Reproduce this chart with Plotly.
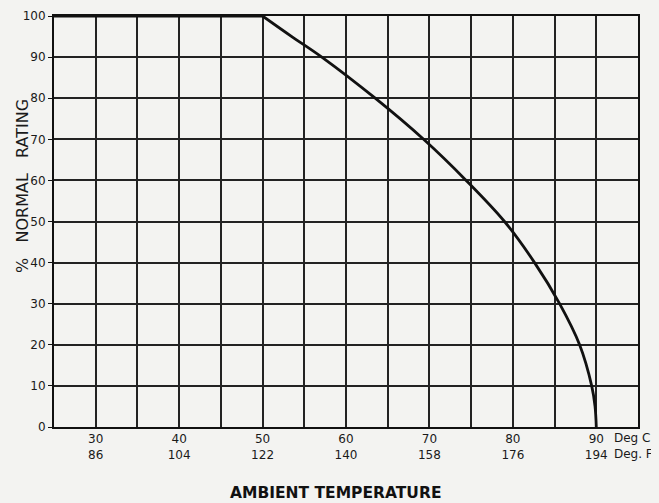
import plotly.graph_objects as go

# flat (full rating) part
flat_temp_c = [25, 50]
flat_rating = [100, 100]
# derating curve (read at each 10 % grid line)
curve_temp_c = [50, 53.5, 57.1, 63.5, 69.3, 74.4, 79, 82.6, 85.6, 88, 89.45, 89.85, 90]
curve_rating = [100, 95, 90, 80, 70, 60, 50, 40, 30, 20, 10, 5, 0]

tick_c = [30, 40, 50, 60, 70, 80, 90]
tick_f = [86, 104, 122, 140, 158, 176, 194]
y_ticks = [0, 10, 20, 30, 40, 50, 60, 70, 80, 90, 100]

grid_x = list(range(25, 96, 5))
xtext = []
for v in grid_x:
    if v in tick_c:
        xtext.append(f"{v}<br>{tick_f[tick_c.index(v)]}")
    else:
        xtext.append("")

BG = "#f3f3f1"
line_style = dict(color="#111111", width=2.8)
fig = go.Figure()
fig.add_trace(go.Scatter(x=flat_temp_c, y=flat_rating, mode="lines",
                         line=line_style, showlegend=False, hoverinfo="skip"))
fig.add_trace(go.Scatter(x=curve_temp_c, y=curve_rating, mode="lines",
                         line=dict(**line_style, shape="spline", smoothing=1.0),
                         showlegend=False, hoverinfo="skip"))

font = dict(family="DejaVu Sans", size=12, color="#1a1a1a")
# page body has an 8px margin; figure is sized/placed to compensate
fig.update_layout(
    width=651, height=495,
    margin=dict(l=46, r=21, t=8, b=76, autoexpand=False),
    paper_bgcolor=BG, plot_bgcolor=BG,
    font=font,
    xaxis=dict(range=[25, 95], tickvals=grid_x, ticktext=xtext, showgrid=True,
               gridcolor="#222222", gridwidth=1.6, zeroline=False, showline=True,
               linecolor="#111111", linewidth=2, mirror=True, ticks="", tickfont=font),
    yaxis=dict(range=[0, 100], tickvals=y_ticks, showgrid=True,
               gridcolor="#222222", gridwidth=1.6, zeroline=False, showline=True,
               linecolor="#111111", linewidth=2, mirror=True, ticks="outside",
               ticklen=4, tickcolor="#111111", tickfont=font),
)
# y-axis title
fig.add_annotation(x=0, y=(419 - 178) / 411, xref="paper", yref="paper",
                   text="%\u00a0\u00a0\u00a0NORMAL\u00a0\u00a0\u00a0RATING", textangle=-90,
                   showarrow=False, xanchor="center", yanchor="middle", xshift=-32,
                   font=dict(family="DejaVu Sans", size=16, color="#1a1a1a"))
fig.add_annotation(x=1, y=0, xref="paper", yref="paper", text="Deg C<br>Deg. F",
                   showarrow=False, xanchor="left", yanchor="top", xshift=-26, yshift=-2,
                   align="left", font=font)
fig.add_annotation(x=0.5, y=-66 / 411, xref="paper", yref="paper",
                   text="<b>AMBIENT TEMPERATURE</b>",
                   showarrow=False, xanchor="center", yanchor="middle", xshift=-11,
                   font=dict(family="DejaVu Sans", size=15.5, color="#111111"))
fig.write_html("out.html",
               post_script=f"document.body.style.background='{BG}';")
